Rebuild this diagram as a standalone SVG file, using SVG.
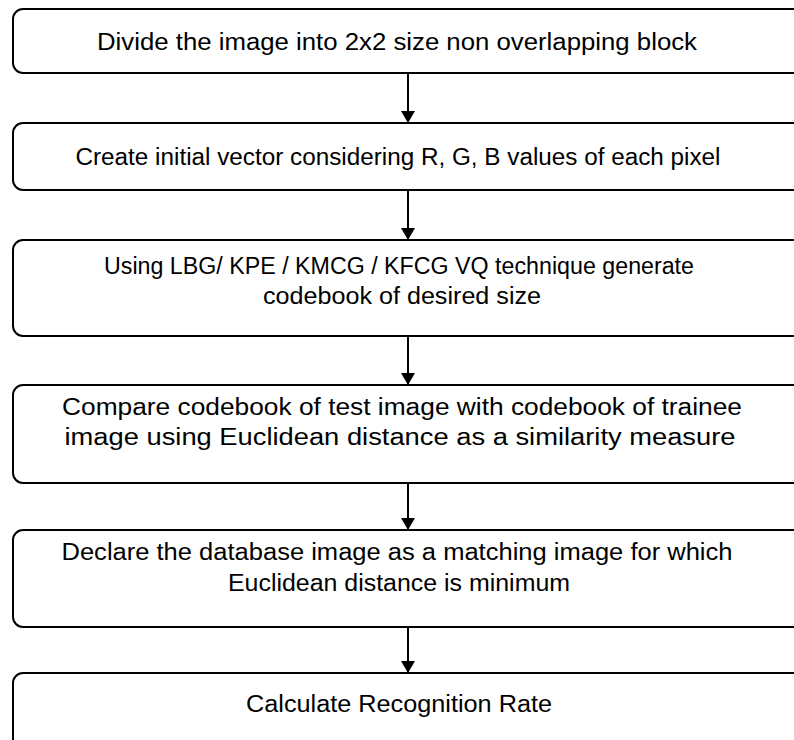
<svg xmlns="http://www.w3.org/2000/svg" width="794" height="740" viewBox="0 0 794 740">
<style>
.box{fill:#fff;stroke:#000;stroke-width:2}
.t{font-family:"Liberation Sans",Arial,sans-serif;font-size:23px;fill:#000;text-anchor:middle}
.c{stroke:#000;stroke-width:2;fill:none}
</style>
<defs>
<marker id="ah" markerWidth="12" markerHeight="14" refX="12" refY="7" orient="auto" markerUnits="userSpaceOnUse" viewBox="0 0 12 14">
<path d="M0,0 L12,7 L0,14 Z" fill="#000"/>
</marker>
</defs>
<rect width="794" height="740" fill="#fff"/>
<g id="n1"><rect class="box" x="13" y="9" width="792" height="64" rx="10"/><text class="t" x="397" y="50" textLength="600" lengthAdjust="spacingAndGlyphs">Divide the image into 2x2 size non overlapping block</text></g>
<g id="n2"><rect class="box" x="13" y="123" width="792" height="67" rx="10"/><text class="t" x="398" y="165" textLength="645" lengthAdjust="spacingAndGlyphs">Create initial vector considering R, G, B values of each pixel</text></g>
<g id="n3"><rect class="box" x="13" y="240" width="792" height="96" rx="10"/><text class="t" x="399" y="274" textLength="590" lengthAdjust="spacingAndGlyphs">Using LBG/ KPE / KMCG / KFCG VQ technique generate</text><text class="t" x="402" y="304" textLength="278" lengthAdjust="spacingAndGlyphs">codebook of desired size</text></g>
<g id="n4"><rect class="box" x="13" y="385" width="792" height="98" rx="10"/><text class="t" x="402" y="415" textLength="680" lengthAdjust="spacingAndGlyphs">Compare codebook of test image with codebook of trainee</text><text class="t" x="400" y="445" textLength="671" lengthAdjust="spacingAndGlyphs">image using Euclidean distance as a similarity measure</text></g>
<g id="n5"><rect class="box" x="13" y="530" width="792" height="97" rx="10"/><text class="t" x="397" y="560" textLength="671" lengthAdjust="spacingAndGlyphs">Declare the database image as a matching image for which</text><text class="t" x="399" y="591" textLength="342" lengthAdjust="spacingAndGlyphs">Euclidean distance is minimum</text></g>
<g id="n6"><rect class="box" x="13" y="673" width="792" height="90" rx="10"/><text class="t" x="399" y="712" textLength="306" lengthAdjust="spacingAndGlyphs">Calculate Recognition Rate</text></g>
<g id="connectors">
<line class="c" x1="408" y1="73" x2="408" y2="123" marker-end="url(#ah)"/>
<line class="c" x1="408" y1="190" x2="408" y2="240" marker-end="url(#ah)"/>
<line class="c" x1="408" y1="336" x2="408" y2="385" marker-end="url(#ah)"/>
<line class="c" x1="408" y1="483" x2="408" y2="530" marker-end="url(#ah)"/>
<line class="c" x1="408" y1="627" x2="408" y2="673" marker-end="url(#ah)"/>
</g>
</svg>
